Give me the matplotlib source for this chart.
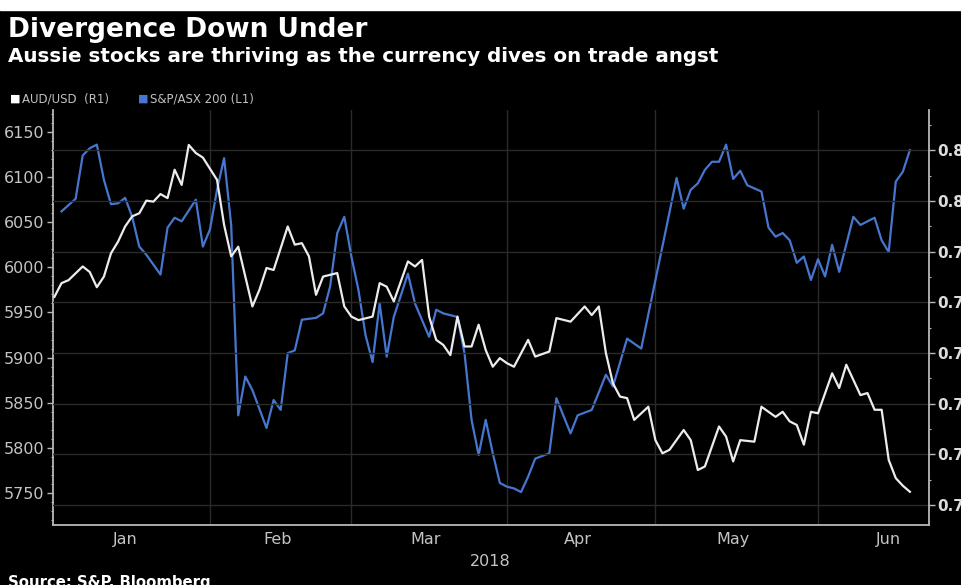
import numpy as np
import matplotlib
matplotlib.use("Agg")
import matplotlib.pyplot as plt
from matplotlib.ticker import FixedLocator, MultipleLocator, NullFormatter

# AUD/USD (right axis)
aud_dates = [
    "2018-01-02", "2018-01-03", "2018-01-04", "2018-01-08", "2018-01-09",
    "2018-01-10", "2018-01-11", "2018-01-12", "2018-01-15", "2018-01-16",
    "2018-01-17", "2018-01-18", "2018-01-19", "2018-01-22", "2018-01-23",
    "2018-01-24", "2018-01-25", "2018-01-26", "2018-01-29", "2018-01-30",
    "2018-01-31", "2018-02-02", "2018-02-05", "2018-02-06", "2018-02-07",
    "2018-02-09", "2018-02-12", "2018-02-13", "2018-02-14", "2018-02-16",
    "2018-02-19", "2018-02-20", "2018-02-21", "2018-02-22", "2018-02-23",
    "2018-02-27", "2018-02-28", "2018-03-01", "2018-03-02", "2018-03-06",
    "2018-03-07", "2018-03-08", "2018-03-09", "2018-03-13", "2018-03-14",
    "2018-03-15", "2018-03-16", "2018-03-19", "2018-03-20", "2018-03-21",
    "2018-03-22", "2018-03-23", "2018-03-26", "2018-03-27", "2018-03-28",
    "2018-03-29", "2018-03-30", "2018-04-02", "2018-04-03", "2018-04-05",
    "2018-04-06", "2018-04-10", "2018-04-11", "2018-04-13", "2018-04-17",
    "2018-04-18", "2018-04-19", "2018-04-20", "2018-04-23", "2018-04-24",
    "2018-04-25", "2018-04-26", "2018-04-30", "2018-05-01", "2018-05-02",
    "2018-05-03", "2018-05-07", "2018-05-08", "2018-05-09", "2018-05-10",
    "2018-05-14", "2018-05-15", "2018-05-16", "2018-05-17", "2018-05-21",
    "2018-05-22", "2018-05-24", "2018-05-25", "2018-05-28", "2018-05-29",
    "2018-05-30", "2018-05-31", "2018-06-01", "2018-06-05", "2018-06-06",
    "2018-06-07", "2018-06-11", "2018-06-12", "2018-06-13", "2018-06-14",
    "2018-06-15", "2018-06-18", "2018-06-19", "2018-06-20",
]
aud_values = [
    0.7811, 0.7838, 0.7844, 0.7871, 0.7860,
    0.7830, 0.7851, 0.7897, 0.7920, 0.7950,
    0.7970, 0.7976, 0.8001, 0.7999, 0.8014,
    0.8006, 0.8062, 0.8032, 0.8111, 0.8095,
    0.8086, 0.8042, 0.7953, 0.7891, 0.7910,
    0.7792, 0.7825, 0.7868, 0.7864, 0.7950,
    0.7914, 0.7917, 0.7891, 0.7815, 0.7851,
    0.7858, 0.7792, 0.7772, 0.7765, 0.7772,
    0.7838, 0.7831, 0.7802, 0.7881, 0.7871,
    0.7884, 0.7772, 0.7726, 0.7716, 0.7696,
    0.7772, 0.7713, 0.7713, 0.7756, 0.7706,
    0.7673, 0.7690, 0.7680, 0.7673, 0.7726,
    0.7693, 0.7703, 0.7769, 0.7762, 0.7792,
    0.7775, 0.7792, 0.7700, 0.7640, 0.7614,
    0.7611, 0.7568, 0.7594, 0.7528, 0.7502,
    0.7509, 0.7548, 0.7528, 0.7469, 0.7476,
    0.7555, 0.7535, 0.7486, 0.7528, 0.7525,
    0.7594, 0.7574, 0.7584, 0.7565, 0.7558,
    0.7519, 0.7584, 0.7581, 0.7660, 0.7631,
    0.7677, 0.7617, 0.7621, 0.7588, 0.7588,
    0.7489, 0.7453, 0.7438, 0.7426,
]

# S&P/ASX 200 (left axis)
asx_dates = [
    "2018-01-03", "2018-01-05", "2018-01-08", "2018-01-09", "2018-01-10",
    "2018-01-11", "2018-01-12", "2018-01-15", "2018-01-16", "2018-01-17",
    "2018-01-18", "2018-01-19", "2018-01-23", "2018-01-24", "2018-01-25",
    "2018-01-26", "2018-01-30", "2018-01-31", "2018-02-01", "2018-02-02",
    "2018-02-05", "2018-02-06", "2018-02-07", "2018-02-08", "2018-02-09",
    "2018-02-13", "2018-02-14", "2018-02-15", "2018-02-16", "2018-02-19",
    "2018-02-20", "2018-02-21", "2018-02-22", "2018-02-23", "2018-02-26",
    "2018-02-27", "2018-02-28", "2018-03-01", "2018-03-02", "2018-03-05",
    "2018-03-06", "2018-03-07", "2018-03-08", "2018-03-09", "2018-03-12",
    "2018-03-13", "2018-03-14", "2018-03-16", "2018-03-19", "2018-03-20",
    "2018-03-22", "2018-03-23", "2018-03-26", "2018-03-27", "2018-03-28",
    "2018-03-29", "2018-03-30", "2018-04-02", "2018-04-03", "2018-04-04",
    "2018-04-05", "2018-04-06", "2018-04-10", "2018-04-11", "2018-04-13",
    "2018-04-16", "2018-04-18", "2018-04-20", "2018-04-23", "2018-04-25",
    "2018-04-27", "2018-05-04", "2018-05-07", "2018-05-08", "2018-05-09",
    "2018-05-10", "2018-05-11", "2018-05-14", "2018-05-15", "2018-05-16",
    "2018-05-17", "2018-05-18", "2018-05-22", "2018-05-23", "2018-05-24",
    "2018-05-25", "2018-05-28", "2018-05-29", "2018-05-30", "2018-05-31",
    "2018-06-01", "2018-06-04", "2018-06-05", "2018-06-06", "2018-06-08",
    "2018-06-11", "2018-06-13", "2018-06-14", "2018-06-15", "2018-06-18",
    "2018-06-19", "2018-06-20",
]
asx_values = [
    6062, 6076, 6124, 6132, 6136,
    6097, 6070, 6071, 6077, 6056,
    6023, 6014, 5992, 6044, 6055,
    6051, 6075, 6023, 6042, 6086,
    6121, 6047, 5836, 5879, 5864,
    5822, 5853, 5842, 5905, 5908,
    5942, 5943, 5944, 5949, 5979,
    6038, 6056, 6012, 5975, 5925,
    5895, 5960, 5901, 5945, 5969,
    5993, 5960, 5923, 5953, 5949,
    5945, 5905, 5831, 5792, 5831,
    5794, 5761, 5757, 5755, 5751,
    5768, 5788, 5794, 5855, 5816,
    5836, 5842, 5881, 5868, 5921,
    5910, 6099, 6065, 6086, 6093,
    6108, 6117, 6117, 6136, 6098,
    6107, 6091, 6084, 6044, 6034,
    6038, 6030, 6005, 6012, 5986,
    6009, 5990, 6025, 5995, 6056,
    6047, 6055, 6030, 6017, 6095,
    6106, 6130,
]

months = ["Jan", "Feb", "Mar", "Apr", "May", "Jun"]
month_starts = ["2018-01-01", "2018-02-01", "2018-03-01", "2018-04-01",
                "2018-05-01", "2018-06-01", "2018-07-01"]
left_ticks = [5750, 5800, 5850, 5900, 5950, 6000, 6050, 6100, 6150]
right_ticks = [0.74, 0.75, 0.76, 0.77, 0.78, 0.79, 0.80, 0.81]

START = "2018-01-02"


def bday(dates):
    # trading-day position on the x axis (weekends collapsed)
    return np.busday_count(START, np.array(dates, dtype="datetime64[D]"))


BG = "black"
SPINE = "#b8b8b8"
GRID = "#2a2a2a"
TICK_TXT = "#c4c4c4"
BLUE = "#4676cf"
WHITE = "#ececec"

fig = plt.figure(figsize=(9.62, 5.85), dpi=100, facecolor=BG)
ax = fig.add_axes([0.0551, 0.1026, 0.9106, 0.7094])
ax.set_facecolor(BG)
ax2 = ax.twinx()

ax.plot(bday(asx_dates), asx_values, color=BLUE, lw=1.6, zorder=3)
ax2.plot(bday(aud_dates), aud_values, color=WHITE, lw=1.6, zorder=3)

ax.set_xlim(-0.2, 123.7)
ax.set_ylim(5714.5, 6174.4)
ax2.set_ylim(0.73605, 0.8180)

# x axis: gridlines at month starts, labels centred in each month
bounds = bday(month_starts)
ax.xaxis.set_major_locator(FixedLocator(bounds[1:-1]))
ax.xaxis.set_major_formatter(NullFormatter())
ax.xaxis.set_minor_locator(FixedLocator((bounds[:-1] + bounds[1:]) / 2 - 0.5))
ax.set_xticklabels(months, minor=True)
ax.tick_params(axis="x", which="both", length=0, pad=5)
ax.tick_params(axis="x", which="minor", labelcolor=TICK_TXT, labelsize=11.5)
ax.grid(axis="x", which="major", color=GRID, lw=1)

# left axis
ax.yaxis.set_major_locator(FixedLocator(left_ticks))
ax.yaxis.set_minor_locator(MultipleLocator(10))
ax.tick_params(axis="y", which="major", length=4, width=1, color=SPINE,
               labelcolor=TICK_TXT, labelsize=11.5, pad=2)
ax.tick_params(axis="y", which="minor", length=1.5, width=0.8, color=SPINE)

# right axis
ax2.yaxis.set_major_locator(FixedLocator(right_ticks))
ax2.yaxis.set_minor_locator(MultipleLocator(0.005))
ax2.set_yticklabels([f"{t:.2f}" for t in right_ticks])
ax2.tick_params(axis="y", which="major", length=4, width=1, color=SPINE,
                labelcolor="#dcdcdc", labelsize=11, pad=2)
ax2.tick_params(axis="y", which="minor", length=1.5, width=0.8, color=SPINE)
for lab in ax2.get_yticklabels():
    lab.set_fontweight("bold")
ax2.grid(axis="y", color=GRID, lw=1)
ax2.set_axisbelow(True)

for a in (ax, ax2):
    a.spines["top"].set_visible(False)
ax2.spines["left"].set_visible(False)
ax2.spines["bottom"].set_visible(False)
ax.spines["right"].set_visible(False)
for side, a in (("left", ax), ("bottom", ax), ("right", ax2)):
    a.spines[side].set_color(SPINE)
    a.spines[side].set_linewidth(1.3)

# titles, legend, footer
fig.patches.append(plt.Rectangle((0, 1 - 10 / 585), 1, 10 / 585,
                                 transform=fig.transFigure,
                                 color="white", zorder=0))
fig.text(8 / 962, 1 - 37 / 585, "Divergence Down Under", color="white",
         fontsize=19, fontweight="bold", va="baseline")
fig.text(8 / 962, 1 - 62 / 585,
         "Aussie stocks are thriving as the currency dives on trade angst",
         color="white", fontsize=14.3, fontweight="bold", va="baseline")
fig.text(10 / 962, 1 - 102 / 585, "\u25a0", color="white", fontsize=8,
         va="baseline")
fig.text(22 / 962, 1 - 102 / 585, "AUD/USD  (R1)", color="#c0c0c0",
         fontsize=8.5, va="baseline")
fig.text(138 / 962, 1 - 102 / 585, "\u25a0", color=BLUE, fontsize=8,
         va="baseline")
fig.text(150 / 962, 1 - 102 / 585, "S&P/ASX 200 (L1)", color="#c0c0c0",
         fontsize=8.5, va="baseline")
fig.text(490 / 962, 1 - 562 / 585, "2018", color=TICK_TXT, fontsize=11.5,
         ha="center", va="center")
fig.text(8 / 962, -0.004, "Source: S&P, Bloomberg", color="white",
         fontsize=10.7, fontweight="bold", va="baseline")

fig.savefig("out.png", dpi=100, facecolor=BG)
